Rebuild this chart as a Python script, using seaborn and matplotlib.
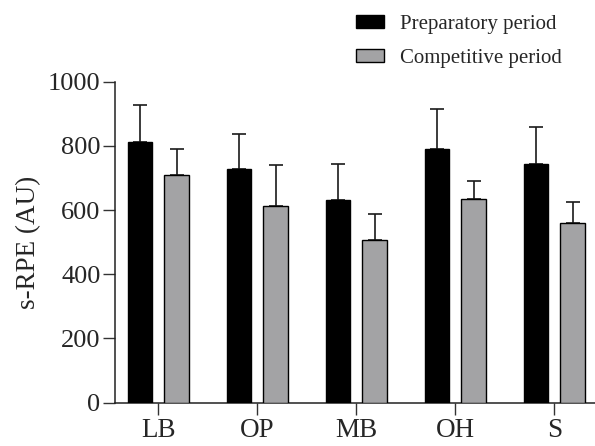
import pandas as pd
import matplotlib
matplotlib.use("Agg")
import matplotlib.pyplot as plt
import seaborn as sns

# values (mean and upper SD)
positions = ['LB', 'OP', 'MB', 'OH', 'S']
periods = ['Preparatory period', 'Competitive period']
prep_mean = [812, 727, 632, 790, 743]
prep_sd = [114, 111, 112, 124, 117]
comp_mean = [710, 614, 506, 633, 559]
comp_sd = [80, 127, 82, 57, 65]
y_ticks = [0, 200, 400, 600, 800, 1000]

df = pd.DataFrame({
    'position': positions * 2,
    'period': [periods[0]] * len(positions) + [periods[1]] * len(positions),
    's_rpe': prep_mean + comp_mean,
})
sds = [prep_sd, comp_sd]
means = [prep_mean, comp_mean]

sns.set_style('ticks')
plt.rcParams['font.family'] = ['Liberation Serif', 'DejaVu Serif']

fig = plt.figure(figsize=(5.95, 4.46), dpi=100)
ax = fig.add_axes([0.1933, 0.0975, 0.8067, 0.7193])

sns.barplot(data=df, x='position', y='s_rpe', hue='period', order=positions,
            hue_order=periods, palette={periods[0]: 'black', periods[1]: '#a2a2a6'},
            width=0.74, gap=0.324, edgecolor='black', linewidth=1.0,
            errorbar=None, ax=ax, zorder=3)

# upward-only error bars placed on the bars seaborn drew
for cont, m, s in zip(ax.containers, means, sds):
    xs = [p.get_x() + p.get_width() / 2 for p in cont.patches]
    ax.errorbar(xs, m, yerr=[[0] * len(s), s], fmt='none', ecolor='#1a1a1a',
                elinewidth=1.2, capsize=4.7, capthick=1.2, zorder=2)

ax.set_xlim(-0.437, 4.41)
ax.set_ylim(0, 1000)
ax.set_yticks(y_ticks)
ax.set_xlabel('')
ax.set_ylabel('s-RPE (AU)', fontsize=19.5, labelpad=5)
ax.tick_params(axis='both', labelsize=19, length=8.5, width=1.0, color='#333333', pad=2)
ax.tick_params(axis='x', labelsize=19.5, pad=3)
for side in ['top', 'right']:
    ax.spines[side].set_visible(False)
for side in ['left', 'bottom']:
    ax.spines[side].set_linewidth(1.1)
    ax.spines[side].set_color('#222222')

handles, labels = ax.get_legend_handles_labels()
ax.legend(handles, labels, loc='upper left', bbox_to_anchor=(356 / 595, 1 - 15 / 446),
          bbox_transform=fig.transFigure, frameon=False, fontsize=15,
          handlelength=1.33, handleheight=0.53, handletextpad=0.76,
          labelspacing=0.72, borderpad=0, borderaxespad=0)

fig.savefig('out.png', dpi=100)
